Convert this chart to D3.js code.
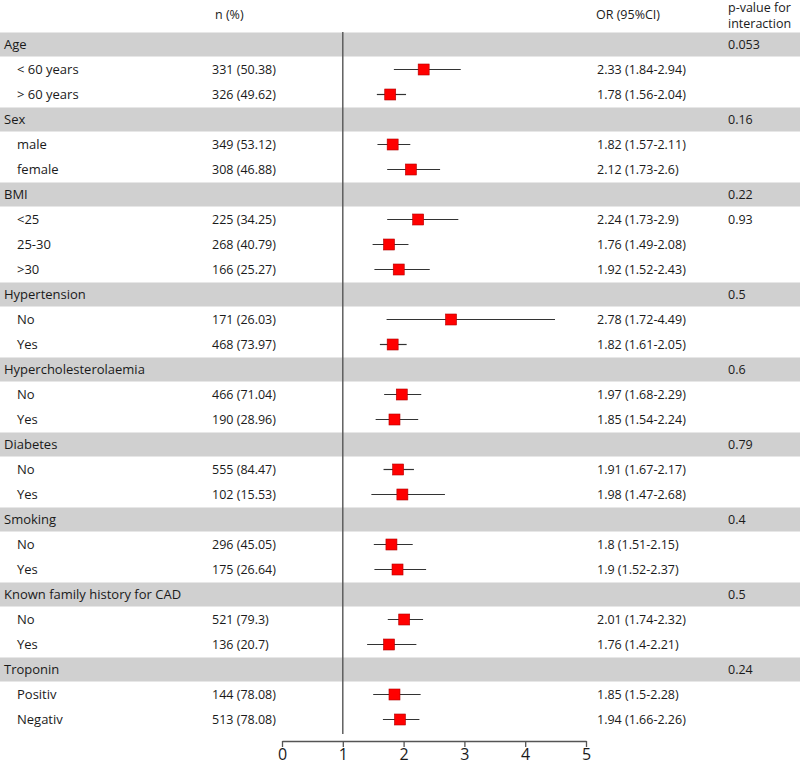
<!DOCTYPE html>
<html><head><meta charset="utf-8">
<script src="https://cdn.jsdelivr.net/npm/d3@7"></script>
<style>body{margin:0;background:#fff;}svg{display:block;font-family:"Open Sans",sans-serif;}</style>
</head><body><div id="chart"></div>
<script>
const groups = ["Age","Sex","BMI","Hypertension","Hypercholesterolaemia","Diabetes","Smoking","Known family history for CAD","Troponin"];
const groupP = ["0.053","0.16","0.22","0.5","0.6","0.79","0.4","0.5","0.24"];
const subGroup = [0,0,1,1,2,2,2,3,3,4,4,5,5,6,6,7,7,8,8];
const subLabels = ["< 60 years","> 60 years","male","female","<25","25-30",">30","No","Yes","No","Yes","No","Yes","No","Yes","No","Yes","Positiv","Negativ"];
const nText = ["331 (50.38)","326 (49.62)","349 (53.12)","308 (46.88)","225 (34.25)","268 (40.79)","166 (25.27)","171 (26.03)","468 (73.97)","466 (71.04)","190 (28.96)","555 (84.47)","102 (15.53)","296 (45.05)","175 (26.64)","521 (79.3)","136 (20.7)","144 (78.08)","513 (78.08)"];
const orVal = [2.33,1.78,1.82,2.12,2.24,1.76,1.92,2.78,1.82,1.97,1.85,1.91,1.98,1.8,1.9,2.01,1.76,1.85,1.94];
const ciLo = [1.84,1.56,1.57,1.73,1.73,1.49,1.52,1.72,1.61,1.68,1.54,1.67,1.47,1.51,1.52,1.74,1.4,1.5,1.66];
const ciHi = [2.94,2.04,2.11,2.6,2.9,2.08,2.43,4.49,2.05,2.29,2.24,2.17,2.68,2.15,2.37,2.32,2.21,2.28,2.26];
const orText = ["2.33 (1.84-2.94)","1.78 (1.56-2.04)","1.82 (1.57-2.11)","2.12 (1.73-2.6)","2.24 (1.73-2.9)","1.76 (1.49-2.08)","1.92 (1.52-2.43)","2.78 (1.72-4.49)","1.82 (1.61-2.05)","1.97 (1.68-2.29)","1.85 (1.54-2.24)","1.91 (1.67-2.17)","1.98 (1.47-2.68)","1.8 (1.51-2.15)","1.9 (1.52-2.37)","2.01 (1.74-2.32)","1.76 (1.4-2.21)","1.85 (1.5-2.28)","1.94 (1.66-2.26)"];
const subP = ["","","","","0.93","","","","","","","","","","","","","",""];
const xTicks = [0,1,2,3,4,5];

const W = 800, H = 764;
const svg = d3.select("#chart").append("svg").attr("width", W).attr("height", H);

const rows = [];
groups.forEach((g, gi) => {
  rows.push({type:"group", label:g, p:groupP[gi], id:"g"+gi});
  subGroup.forEach((sg, i) => { if (sg === gi) rows.push({type:"sub", i, id:"s"+i}); });
});

const y = d3.scaleBand().domain(rows.map(r => r.id)).range([32, 732]).paddingInner(0);
const x = d3.scaleLinear().domain([0,5]).range([282, 586]);
const textColor = "#1a1a1a";
const fs = 12.5;

svg.selectAll("rect.band").data(rows.filter(r => r.type === "group")).enter().append("rect")
  .attr("x", 0).attr("width", W).attr("y", d => y(d.id) + 0.5).attr("height", y.bandwidth() - 1)
  .attr("fill", "#d0d0d0");

svg.append("text").attr("x", 215).attr("y", 15).attr("dy", "0.35em").attr("font-size", fs).attr("fill", textColor).text("n (%)");
svg.append("text").attr("x", 596).attr("y", 15).attr("dy", "0.35em").attr("font-size", fs).attr("fill", textColor).text("OR (95%CI)");
svg.append("text").attr("x", 728).attr("y", 8).attr("dy", "0.35em").attr("font-size", fs).attr("fill", textColor).text("p-value for");
svg.append("text").attr("x", 728).attr("y", 24).attr("dy", "0.35em").attr("font-size", fs).attr("fill", textColor).text("interaction");

const cy = d => y(d.id) + y.bandwidth() / 2;

const gRows = svg.selectAll("g.row").data(rows).enter().append("g");
gRows.filter(d => d.type === "group").append("text").attr("x", 4).attr("y", cy).attr("dy", "0.35em")
  .attr("font-size", 13).attr("fill", textColor).text(d => d.label);
gRows.filter(d => d.type === "group").append("text").attr("x", 728).attr("y", cy).attr("dy", "0.35em")
  .attr("font-size", fs).attr("fill", textColor).text(d => d.p);
const subs = gRows.filter(d => d.type === "sub");
subs.append("text").attr("x", 17).attr("y", cy).attr("dy", "0.35em").attr("font-size", 13).attr("fill", textColor).text(d => subLabels[d.i]);
subs.append("text").attr("x", 212).attr("y", cy).attr("dy", "0.35em").attr("font-size", fs).attr("fill", textColor).text(d => nText[d.i]);
subs.append("text").attr("x", 597).attr("y", cy).attr("dy", "0.35em").attr("font-size", fs).attr("fill", textColor).text(d => orText[d.i]);
subs.append("text").attr("x", 728).attr("y", cy).attr("dy", "0.35em").attr("font-size", fs).attr("fill", textColor).text(d => subP[d.i]);

svg.append("line").attr("x1", x(1)).attr("x2", x(1)).attr("y1", 32).attr("y2", 734)
  .attr("stroke", "#555").attr("stroke-width", 1.4);

subs.append("line").attr("x1", d => x(ciLo[d.i])).attr("x2", d => x(ciHi[d.i]))
  .attr("y1", cy).attr("y2", cy).attr("stroke", "#333").attr("stroke-width", 1.2);
const ms = 11;
subs.append("rect").attr("x", d => x(orVal[d.i]) - ms/2).attr("y", d => cy(d) - ms/2)
  .attr("width", ms).attr("height", ms).attr("fill", "#ff0000").attr("stroke", "#b00000").attr("stroke-width", 0.6);

const axis = d3.axisBottom(x).tickValues(xTicks).tickFormat(d3.format("d")).tickSize(6).tickSizeOuter(0);
const ag = svg.append("g").attr("transform", "translate(0,741)").call(axis);
ag.select(".domain").attr("stroke", "#555").attr("stroke-width", 1.3);
ag.selectAll(".tick line").attr("stroke", "#555").attr("stroke-width", 1.3);
ag.selectAll(".tick text").attr("font-size", 16).attr("font-family", "Open Sans, sans-serif").attr("fill", textColor).attr("y", 8);
</script></body></html>
